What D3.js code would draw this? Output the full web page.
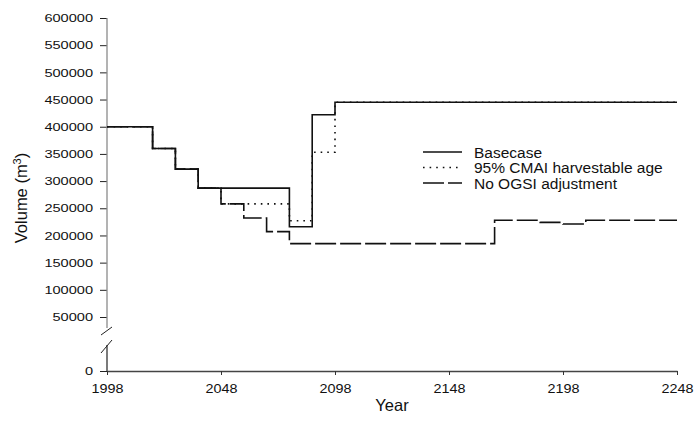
<!DOCTYPE html>
<html>
<head>
<meta charset="utf-8">
<script src="https://cdn.jsdelivr.net/npm/d3@7/dist/d3.min.js"></script>
<style>
  html, body { margin: 0; padding: 0; background: #fff; }
  svg { display: block; font-family: "Liberation Sans", Arial, Helvetica, sans-serif; }
</style>
</head>
<body>
<svg id="chart" width="694" height="434"></svg>
<script>
// Harvest volume projections, 1998–2248 (step changes at period starts)
const baseYears   = [1998, 2018, 2028, 2038, 2078, 2088, 2098];
const baseValues  = [400000, 360000, 322000, 287000, 216000, 422000, 445000];

const cmaiYears   = [1998, 2018, 2028, 2038, 2048, 2078, 2088, 2098];
const cmaiValues  = [400000, 360000, 322000, 287000, 258000, 227000, 353000, 445000];

const ogsiYears   = [1998, 2018, 2028, 2038, 2048, 2058, 2068, 2078, 2168, 2188, 2198, 2208];
const ogsiValues  = [400000, 360000, 322000, 287000, 258000, 232000, 207000, 185000, 228000, 224000, 221000, 228000];

const endYear = 2248;
const xTicks = [1998, 2048, 2098, 2148, 2198, 2248];
const yTicks = [0, 50000, 100000, 150000, 200000, 250000, 300000, 350000, 400000, 450000, 500000, 550000, 600000];
const seriesNames = ["Basecase", "95% CMAI harvestable age", "No OGSI adjustment"];

const svg = d3.select("#chart");

const x = d3.scaleLinear().domain([1998, 2248]).range([107, 677]);
// broken value axis: the 0–50000 stretch is drawn with a gap
const y = d3.scaleLinear().domain([0, 50000, 600000]).range([371, 317, 18]);

const toPoints = (yrs, vals) => {
  const pts = yrs.map((yr, i) => [yr, vals[i]]);
  pts.push([endYear, vals[vals.length - 1]]);
  return pts;
};

const line = d3.line()
  .x(d => x(d[0]))
  .y(d => y(d[1]))
  .curve(d3.curveStepAfter);

const series = [
  { name: seriesNames[2], pts: toPoints(ogsiYears, ogsiValues), dash: "21,4" },
  { name: seriesNames[1], pts: toPoints(cmaiYears, cmaiValues), dash: "1.6,5" },
  { name: seriesNames[0], pts: toPoints(baseYears, baseValues), dash: null }
];

// axes
const yAxis = d3.axisLeft(y)
  .tickValues(yTicks)
  .tickFormat(d3.format("d"))
  .tickSizeInner(7)
  .tickSizeOuter(0)
  .tickPadding(7);

const gy = svg.append("g").attr("transform", `translate(${x(1998)},0)`).call(yAxis);
gy.select(".domain").remove();
gy.selectAll(".tick line").attr("stroke", "#222");
gy.selectAll(".tick text")
  .attr("font-size", 11.5)
  .attr("fill", "#111")
  .attr("font-family", "Liberation Sans, Arial, sans-serif")
  .attr("textLength", d => String(d).length * 8.1)
  .attr("lengthAdjust", "spacingAndGlyphs");

// value axis line with break marks
const ax = x(1998);
const breakTop = y(50000) + 11;
const breakBot = y(50000) + 28;
svg.append("line").attr("x1", ax).attr("x2", ax).attr("y1", y(600000)).attr("y2", breakTop)
  .attr("stroke", "#8a8a8a").attr("stroke-width", 1.3);
svg.append("line").attr("x1", ax).attr("x2", ax).attr("y1", breakBot).attr("y2", y(0))
  .attr("stroke", "#333").attr("stroke-width", 1.3);
[[breakTop + 7, breakTop - 1], [breakBot + 8, breakBot - 5]].forEach(([yb, yt]) => {
  svg.append("line")
    .attr("x1", ax - 6).attr("y1", yb)
    .attr("x2", ax + 5).attr("y2", yt)
    .attr("stroke", "#222").attr("stroke-width", 1);
});

const xAxis = d3.axisBottom(x)
  .tickValues(xTicks)
  .tickFormat(d3.format("d"))
  .tickSizeInner(4)
  .tickSizeOuter(0)
  .tickPadding(8);

const gx = svg.append("g").attr("transform", `translate(0,${y(0)})`).call(xAxis);
gx.select(".domain").attr("stroke", "#444").attr("stroke-width", 1.3);
gx.selectAll(".tick line").attr("stroke", "#333");
gx.selectAll(".tick text")
  .attr("font-size", 13.5)
  .attr("fill", "#111")
  .attr("font-family", "Liberation Sans, Arial, sans-serif")
  .attr("textLength", 32)
  .attr("lengthAdjust", "spacingAndGlyphs");

// series
svg.append("g").selectAll("path")
  .data(series)
  .join("path")
  .attr("d", d => line(d.pts))
  .attr("fill", "none")
  .attr("stroke", "#111")
  .attr("stroke-width", 1.6)
  .attr("stroke-dasharray", d => d.dash);

// axis titles
svg.append("text")
  .attr("x", 392).attr("y", 411)
  .attr("text-anchor", "middle")
  .attr("font-size", 16.5)
  .attr("fill", "#111")
  .text("Year");

const yt = svg.append("text")
  .attr("transform", "translate(27,198) rotate(-90)")
  .attr("text-anchor", "middle")
  .attr("font-size", 16.5)
  .attr("fill", "#111");
yt.append("tspan").text("Volume (m");
yt.append("tspan").attr("font-size", 11).attr("dy", -6).text("3");
yt.append("tspan").attr("dy", 6).text(")");

// legend
const legendItems = [
  { name: seriesNames[0], dash: null },
  { name: seriesNames[1], dash: "1.6,5" },
  { name: seriesNames[2], dash: "21,4" }
];
const lg = svg.append("g").attr("transform", "translate(423,152)");
legendItems.forEach((d, i) => {
  const row = lg.append("g").attr("transform", `translate(0,${i * 15.5})`);
  row.append("line")
    .attr("x1", 0).attr("x2", 39).attr("y1", 0).attr("y2", 0)
    .attr("stroke", "#111").attr("stroke-width", 1.4)
    .attr("stroke-dasharray", d.dash);
  row.append("text")
    .attr("x", 51).attr("y", 5.5)
    .attr("font-size", 15.5)
    .attr("fill", "#111")
    .text(d.name);
});
</script>
</body>
</html>
